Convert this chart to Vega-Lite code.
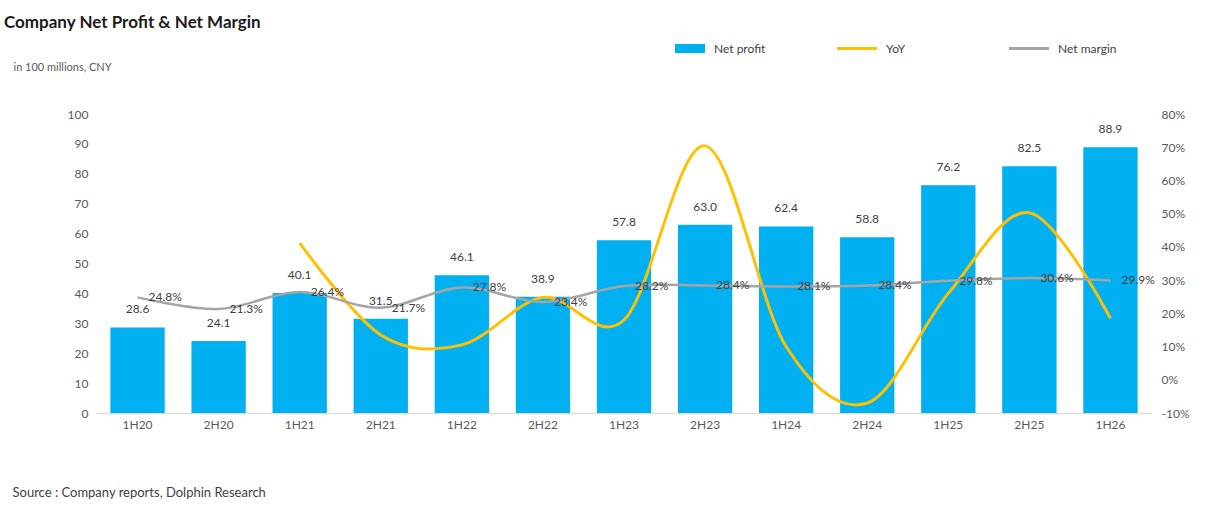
{
  "$schema": "https://vega.github.io/schema/vega-lite/v6.json",
  "description": "Company net profit (bars, 100m CNY) with YoY growth and net margin lines on a right-hand percent axis.",
  "width": 1054,
  "height": 299,
  "autosize": "none",
  "padding": {"left": 97, "top": 114, "right": 55, "bottom": 115},
  "background": "#ffffff",
  "config": {
    "font": "Lato",
    "view": {"stroke": null},
    "axis": {"grid": false, "ticks": false, "domain": false, "labelFont": "Lato", "labelFontSize": 12, "labelColor": "#595959"}
  },
  "title": {
    "text": "Company Net Profit & Net Margin",
    "anchor": "start",
    "dx": -8,
    "offset": -3,
    "fontSize": 17,
    "fontWeight": "bold",
    "color": "#1a1a1a",
    "font": "Lato"
  },
  "data": {
    "values": [
      {"period": "1H20", "profit": 28.6, "yoy": null, "nm": 0.248},
      {"period": "2H20", "profit": 24.1, "yoy": null, "nm": 0.213},
      {"period": "1H21", "profit": 40.1, "yoy": 0.412, "nm": 0.264},
      {"period": "2H21", "profit": 31.5, "yoy": 0.135, "nm": 0.217},
      {"period": "1H22", "profit": 46.1, "yoy": 0.105, "nm": 0.278},
      {"period": "2H22", "profit": 38.9, "yoy": 0.248, "nm": 0.234},
      {"period": "1H23", "profit": 57.8, "yoy": 0.18, "nm": 0.282},
      {"period": "2H23", "profit": 63.0, "yoy": 0.704, "nm": 0.284},
      {"period": "1H24", "profit": 62.4, "yoy": 0.10, "nm": 0.281},
      {"period": "2H24", "profit": 58.8, "yoy": -0.07, "nm": 0.284},
      {"period": "1H25", "profit": 76.2, "yoy": 0.26, "nm": 0.298},
      {"period": "2H25", "profit": 82.5, "yoy": 0.503, "nm": 0.306},
      {"period": "1H26", "profit": 88.9, "yoy": 0.185, "nm": 0.299}
    ]
  },
  "encoding": {
    "x": {
      "field": "period",
      "type": "nominal",
      "sort": null,
      "scale": {"paddingInner": 0.33, "paddingOuter": 0.165},
      "axis": {
        "domain": true,
        "domainColor": "#D9D9D9",
        "labelAngle": 0,
        "labelPadding": 6,
        "title": "Source : Company reports, Dolphin Research",
        "titleX": -85,
        "titleY": 79,
        "titleAlign": "left",
        "titleBaseline": "middle",
        "titleFont": "Lato",
        "titleFontSize": 13,
        "titleFontWeight": "normal",
        "titleColor": "#404040"
      }
    }
  },
  "layer": [
    {
      "layer": [
        {
          "mark": {"type": "bar"},
          "encoding": {
            "y": {
              "field": "profit",
              "type": "quantitative",
              "scale": {"domain": [0, 100], "nice": false},
              "axis": {"orient": "left", "values": [0, 10, 20, 30, 40, 50, 60, 70, 80, 90, 100], "labelPadding": 9, "title": "in 100 millions, CNY", "titleAngle": 0, "titleAlign": "left", "titleBaseline": "middle", "titleX": -84, "titleY": -47, "titleFont": "Lato", "titleFontSize": 11, "titleFontWeight": "normal", "titleColor": "#595959"}
            },
            "color": {
              "datum": "Net profit",
              "scale": {"domain": ["Net profit", "YoY", "Net margin"], "range": ["#00B0F0", "#FFC000", "#A5A5A5"]},
              "legend": {
                "orient": "none",
                "legendX": 568,
                "legendY": -85.5,
                "title": null,
                "columns": 3,
                "gridAlign": "all",
                "columnPadding": 64,
                "padding": 0,
                "symbolSize": 1600,
                "labelOffset": 9,
                "labelFont": "Lato",
                "labelFontSize": 12,
                "labelColor": "#404040",
                "encode": {
                  "symbols": {
                    "update": {
                      "shape": {"signal": "datum.value === 'Net profit' ? 'M-0.5,-0.225H1V0.225H-0.5Z' : 'M-1,-0.075H1V0.075H-1Z'"},
                      "fill": {"signal": "scale('color', datum.value)"},
                      "stroke": {"value": "transparent"},
                      "strokeWidth": {"value": 0},
                      "opacity": {"value": 1}
                    }
                  }
                }
              }
            }
          }
        },
        {
          "mark": {"type": "text", "baseline": "bottom", "dy": -11, "fontSize": 12, "color": "#404040", "font": "Lato"},
          "encoding": {
            "y": {
              "field": "profit",
              "type": "quantitative",
              "scale": {"domain": [0, 100], "nice": false},
              "axis": {"orient": "left", "values": [0, 10, 20, 30, 40, 50, 60, 70, 80, 90, 100], "labelPadding": 9, "title": "in 100 millions, CNY", "titleAngle": 0, "titleAlign": "left", "titleBaseline": "middle", "titleX": -84, "titleY": -47, "titleFont": "Lato", "titleFontSize": 11, "titleFontWeight": "normal", "titleColor": "#595959"}
            },
            "text": {"field": "profit", "type": "quantitative", "format": ".1f"}
          }
        }
      ]
    },
    {
      "layer": [
        {
          "mark": {"type": "line", "interpolate": "cardinal", "strokeWidth": 3},
          "encoding": {
            "y": {
              "field": "yoy",
              "type": "quantitative",
              "scale": {"domain": [-0.1, 0.8], "nice": false, "zero": false},
              "axis": {"orient": "right", "values": [-0.1, 0, 0.1, 0.2, 0.3, 0.4, 0.5, 0.6, 0.7, 0.8], "labelExpr": "replace(format(datum.value, '.0%'), '\u2212', '-')", "labelPadding": 10, "title": null}
            },
            "color": {"datum": "YoY"}
          }
        },
        {
          "mark": {"type": "line", "interpolate": "cardinal", "strokeWidth": 2.5},
          "encoding": {
            "y": {
              "field": "nm",
              "type": "quantitative",
              "scale": {"domain": [-0.1, 0.8], "nice": false, "zero": false},
              "axis": {"orient": "right", "values": [-0.1, 0, 0.1, 0.2, 0.3, 0.4, 0.5, 0.6, 0.7, 0.8], "labelExpr": "replace(format(datum.value, '.0%'), '\u2212', '-')", "labelPadding": 10, "title": null}
            },
            "color": {"datum": "Net margin"}
          }
        },
        {
          "mark": {"type": "text", "align": "left", "baseline": "middle", "dx": 11, "fontSize": 12, "color": "#404040", "font": "Lato"},
          "encoding": {
            "y": {
              "field": "nm",
              "type": "quantitative",
              "scale": {"domain": [-0.1, 0.8], "nice": false, "zero": false},
              "axis": {"orient": "right", "values": [-0.1, 0, 0.1, 0.2, 0.3, 0.4, 0.5, 0.6, 0.7, 0.8], "labelExpr": "replace(format(datum.value, '.0%'), '\u2212', '-')", "labelPadding": 10, "title": null}
            },
            "text": {"field": "nm", "type": "quantitative", "format": ".1%"}
          }
        }
      ]
    }
  ],
  "resolve": {"scale": {"y": "independent"}}
}
